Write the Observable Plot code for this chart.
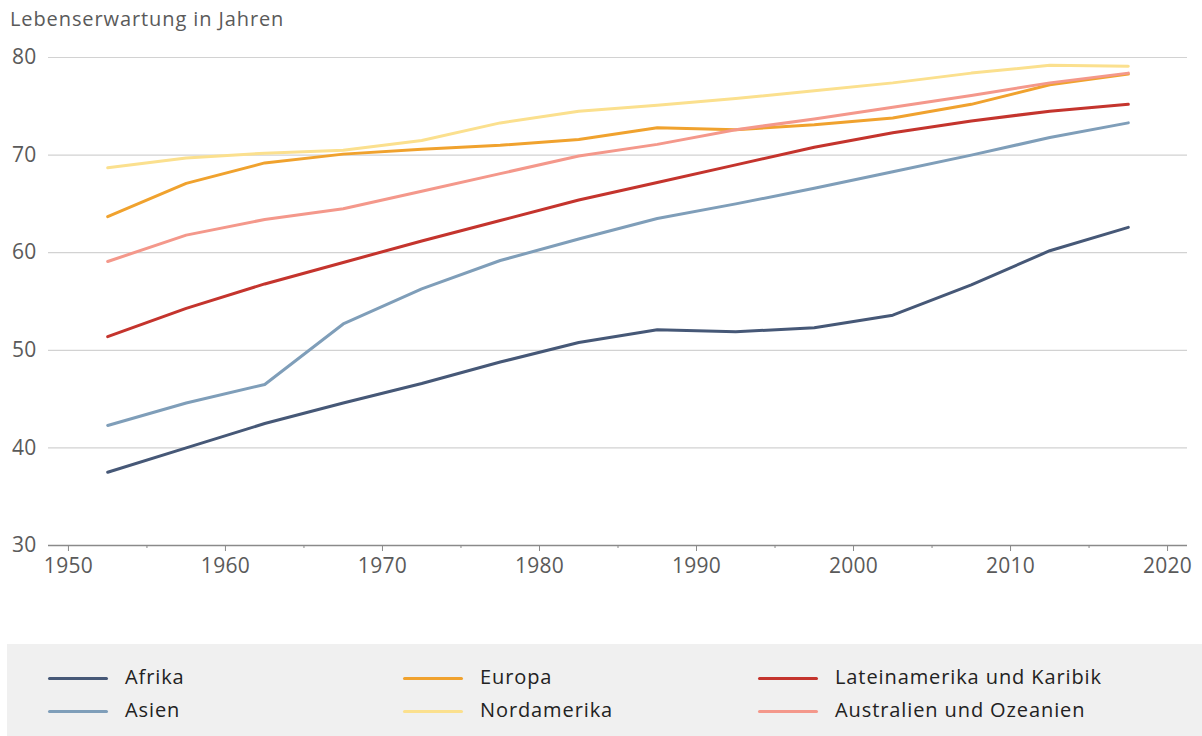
<!DOCTYPE html>
<html>
<head>
<meta charset="utf-8">
<script src="https://cdn.jsdelivr.net/npm/d3@7"></script>
<script src="https://cdn.jsdelivr.net/npm/@observablehq/plot@0.6"></script>
<style>
  html, body { margin: 0; padding: 0; background: #fff; }
  body { width: 1202px; height: 736px; position: relative; overflow: hidden; font-family: "Open Sans", sans-serif; }
  #title { position: absolute; left: 10px; top: 5px; font-size: 20px; letter-spacing: 0.9px; color: #5a5a5a; }
  #chart { position: absolute; left: 0; top: 0; }
  #chart text { letter-spacing: 0.3px; }
  #legend { position: absolute; left: 7px; top: 644px; width: 1195px; height: 92px; background: #f0f0f0; }
  .item { position: absolute; font-size: 20px; letter-spacing: 0.9px; color: #222; line-height: 24px; }
  .sw { position: absolute; width: 60px; height: 3px; border-radius: 1.5px; }
</style>
</head>
<body>
<div id="chart"></div>
<div id="title">Lebenserwartung in Jahren</div>
<div id="legend"></div>
<script>
const years = [1952.5, 1957.5, 1962.5, 1967.5, 1972.5, 1977.5, 1982.5, 1987.5, 1992.5, 1997.5, 2002.5, 2007.5, 2012.5, 2017.5];
const regions = ["Afrika", "Asien", "Europa", "Nordamerika", "Lateinamerika und Karibik", "Australien und Ozeanien"];
const colors = ["#465877", "#7f9eb9", "#f0a22e", "#fbe08e", "#c4342d", "#f4988b"];
const afrika      = [37.5, 40.0, 42.5, 44.6, 46.6, 48.8, 50.8, 52.1, 51.9, 52.3, 53.6, 56.7, 60.2, 62.6];
const asien       = [42.3, 44.6, 46.5, 52.7, 56.3, 59.2, 61.4, 63.5, 65.0, 66.6, 68.3, 70.0, 71.8, 73.3];
const europa      = [63.7, 67.1, 69.2, 70.1, 70.6, 71.0, 71.6, 72.8, 72.6, 73.1, 73.8, 75.2, 77.2, 78.3];
const nordamerika = [68.7, 69.7, 70.2, 70.5, 71.5, 73.3, 74.5, 75.1, 75.8, 76.6, 77.4, 78.4, 79.2, 79.1];
const latein      = [51.4, 54.3, 56.8, 59.0, 61.2, 63.3, 65.4, 67.2, 69.0, 70.8, 72.3, 73.5, 74.5, 75.2];
const ozeanien    = [59.1, 61.8, 63.4, 64.5, 66.3, 68.1, 69.9, 71.1, 72.6, 73.7, 74.9, 76.1, 77.4, 78.4];
const series = [afrika, asien, europa, nordamerika, latein, ozeanien];
const yTicks = [30, 40, 50, 60, 70, 80];
const xMajor = [1950, 1960, 1970, 1980, 1990, 2000, 2010, 2020];
const xMinor = [1955, 1965, 1975, 1985, 1995, 2005, 2015];

const data = [];
regions.forEach((r, i) => years.forEach((y, j) => data.push({region: r, year: y, value: series[i][j]})));

const plot = Plot.plot({
  width: 1202,
  height: 600,
  marginTop: 57,
  marginBottom: 55,
  marginLeft: 48,
  marginRight: 15,
  style: {fontFamily: "Open Sans, sans-serif", fontSize: "21px", color: "#5a5a5a", background: "transparent"},
  x: {domain: [1948.73, 2021.27], axis: null},
  y: {domain: [30, 80], axis: null},
  color: {domain: regions, range: colors},
  marks: [
    Plot.ruleY(yTicks.filter(d => d > 30), {stroke: "#d2d2d2", strokeWidth: 1.2}),
    Plot.ruleY([30], {stroke: "#8a8a8a", strokeWidth: 1.5}),
    Plot.axisX({ticks: xMajor, tickFormat: d => String(d), tickSize: 6, tickPadding: 7, stroke: "#8a8a8a", fill: "#5a5a5a", fontSize: 21, label: null}),
    Plot.axisX({ticks: xMinor, tickFormat: () => "", tickSize: 3, stroke: "#8a8a8a", label: null}),
    Plot.axisY({ticks: yTicks, tickSize: 0, tickPadding: 12, fill: "#5a5a5a", fontSize: 21, label: null}),
    Plot.line(data, {x: "year", y: "value", z: "region", stroke: "region", strokeWidth: 3, curve: "linear"})
  ]
});
document.getElementById("chart").appendChild(plot);

const legend = document.getElementById("legend");
const cols = [41, 396, 751];
regions.forEach((r, i) => {
  const col = Math.floor(i / 2), row = i % 2;
  const sw = document.createElement("div");
  sw.className = "sw";
  sw.style.left = cols[col] + "px";
  sw.style.top = (34 + row * 33 - 1.5) + "px";
  sw.style.background = colors[i];
  legend.appendChild(sw);
  const t = document.createElement("div");
  t.className = "item";
  t.textContent = r;
  t.style.left = (cols[col] + 77) + "px";
  t.style.top = (34 + row * 33 - 13) + "px";
  legend.appendChild(t);
});
</script>
</body>
</html>
